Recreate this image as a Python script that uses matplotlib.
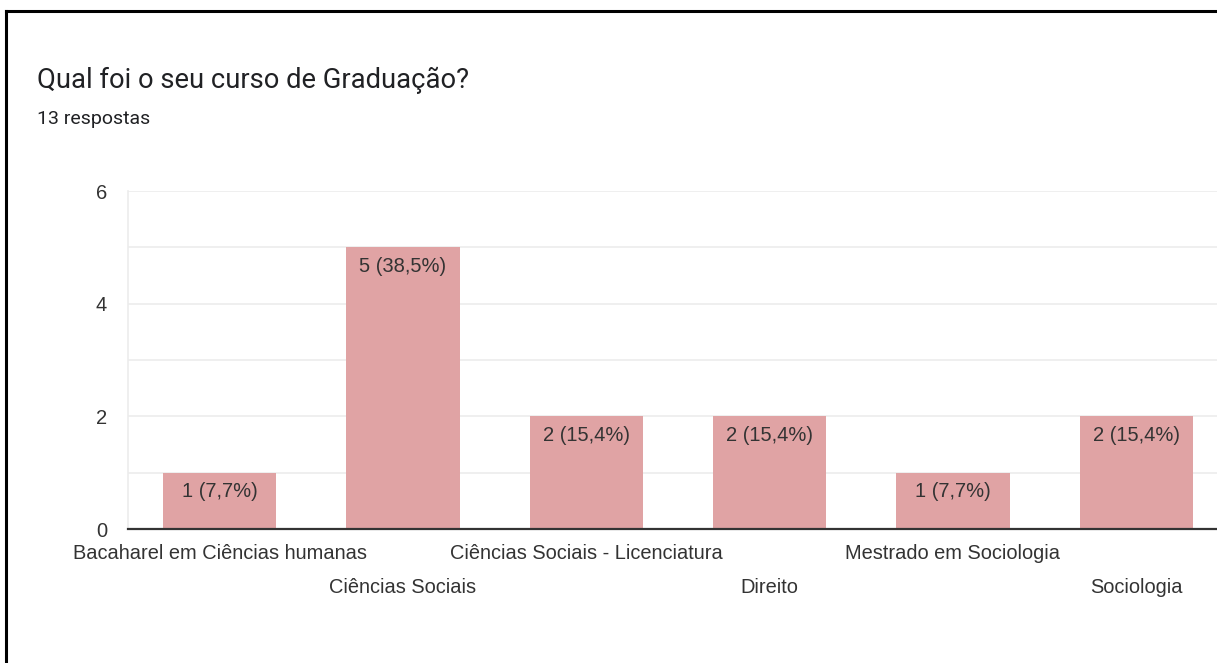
import matplotlib.pyplot as plt
from matplotlib.lines import Line2D

cursos = ['Bacaharel em Ciências humanas', 'Ciências Sociais',
          'Ciências Sociais - Licenciatura', 'Direito',
          'Mestrado em Sociologia', 'Sociologia']
respostas = [1, 5, 2, 2, 1, 2]
total = 13
yticks = [0, 2, 4, 6]

bar_color = '#e0a3a4'
text_color = '#333333'
chart_font = ['Liberation Sans', 'DejaVu Sans']

fig = plt.figure(figsize=(12.17, 6.63), dpi=100)
fig.patch.set_facecolor('white')

# cantos superior e esquerdo em preto
fig.add_artist(Line2D([0.005, 0.005], [0.0, 0.9835], color='black', lw=2.2,
                      transform=fig.transFigure))
fig.add_artist(Line2D([0.005, 1.0], [0.9835, 0.9835], color='black', lw=2.2,
                      transform=fig.transFigure))

fig.text(0.030, 0.878, 'Qual foi o seu curso de Graduação?', fontsize=19.7,
         family=['Roboto', 'DejaVu Sans'], color='#202124', va='center')
fig.text(0.030, 0.821, '%d respostas' % total, fontsize=14,
         family=['Roboto', 'DejaVu Sans'], color='#202124', va='center')

ax = fig.add_axes([0.1052, 0.2021, 0.9038, 0.5098])
x = list(range(len(cursos)))
ax.bar(x, respostas, width=0.617, color=bar_color, zorder=2)

ax.set_xlim(-0.5, len(cursos) - 0.5)
ax.set_ylim(0, 6)
ax.set_yticks(yticks)
ax.set_yticks([1, 3, 5], minor=True)
ax.grid(axis='y', which='both', color='#ececec', lw=1.2, zorder=0)
ax.tick_params(axis='y', which='both', length=0, pad=15, labelsize=14.5,
               labelcolor=text_color)
for lbl in ax.get_yticklabels():
    lbl.set_family(chart_font)

for s in ['top', 'right']:
    ax.spines[s].set_visible(False)
ax.spines['left'].set_color('#ececec')
ax.spines['left'].set_linewidth(1.2)
ax.spines['bottom'].set_color('#333333')
ax.spines['bottom'].set_linewidth(1.6)
ax.spines['bottom'].set_zorder(3)

# rótulos das categorias em duas linhas alternadas
ax.set_xticks([])
for i, nome in enumerate(cursos):
    dy = -24 if i % 2 == 0 else -58
    ax.annotate(nome, (i, 0), xytext=(0, dy), textcoords='offset pixels',
                ha='center', va='center', fontsize=14.4, color=text_color,
                family=chart_font, annotation_clip=False)

for i, v in enumerate(respostas):
    pct = ('%.1f' % (100 * v / total)).replace('.', ',')
    ax.annotate('%d (%s%%)' % (v, pct), (i, v), xytext=(0, -19),
                textcoords='offset pixels', ha='center', va='center',
                fontsize=14.5, color=text_color, family=chart_font, zorder=4)

fig.savefig('out.png', dpi=100, facecolor='white')
